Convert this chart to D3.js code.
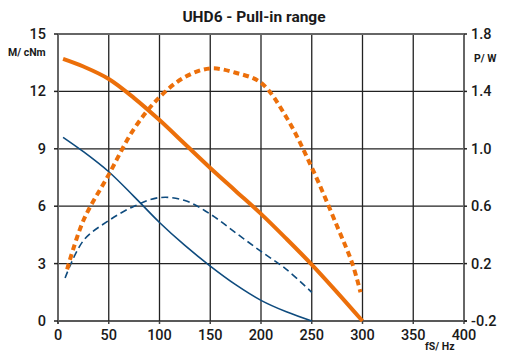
<!DOCTYPE html>
<html><head><meta charset="utf-8">
<script src="https://cdn.jsdelivr.net/npm/d3@7/dist/d3.min.js"></script>
<style>body{margin:0;background:#fff}svg{display:block}text{font-family:Roboto,"DejaVu Sans",sans-serif;fill:#1a1a1a}</style>
</head><body><svg id="c" width="505" height="353"></svg>
<script>
const title = "UHD6 - Pull-in range";
const xTicks = [0,50,100,150,200,250,300,350,400];
const yTicksLeft = [0,3,6,9,12,15];
const yTicksRight = [-0.2,0.2,0.6,1.0,1.4,1.8];
// Orange: torque M (cNm) solid, power P (W) dashed
const orangeTorqueX = [5,25,50,75,100,125,150,175,200,225,250,275,300];
const orangeTorqueY = [13.7,13.3,12.65,11.65,10.5,9.25,8.0,6.8,5.6,4.3,2.95,1.5,0];
const orangePowerX = [9,25,50,75,100,125,150,175,200,225,250,275,290,298];
const orangePowerY = [0.16,0.5,0.82,1.14,1.36,1.5,1.56,1.53,1.46,1.22,0.87,0.46,0.2,0.0];
// Blue: torque solid, power dashed
const blueTorqueX = [5,25,50,75,100,125,150,175,200,225,250];
const blueTorqueY = [9.6,8.85,7.8,6.5,5.15,3.95,2.87,1.9,1.08,0.48,0];
const bluePowerX = [7,25,50,75,100,125,150,175,200,225,250];
const bluePowerY = [0.10,0.36,0.50,0.60,0.66,0.64,0.545,0.415,0.285,0.16,0.0];

const svg = d3.select("#c");
const L=58,R=464,T=34,B=321;
const x = d3.scaleLinear().domain([0,400]).range([L,R]);
const yL = d3.scaleLinear().domain([0,15]).range([B,T]);
const yR = d3.scaleLinear().domain([-0.2,1.8]).range([B,T]);

// grid
svg.append("g").selectAll("line").data(xTicks.slice(1,-1)).join("line")
 .attr("x1",d=>x(d)).attr("x2",d=>x(d)).attr("y1",T).attr("y2",B)
 .attr("stroke","#222").attr("stroke-width",1.3);
svg.append("g").selectAll("line").data(yTicksLeft.slice(1,-1)).join("line")
 .attr("y1",d=>yL(d)).attr("y2",d=>yL(d)).attr("x1",L).attr("x2",R)
 .attr("stroke","#222").attr("stroke-width",1.3);
// frame
const fr = svg.append("g").attr("stroke","#666").attr("stroke-width",2);
fr.append("line").attr("x1",L).attr("x2",R).attr("y1",T).attr("y2",T);
fr.append("line").attr("x1",L).attr("x2",R+3).attr("y1",B).attr("y2",B).attr("stroke","#222").attr("stroke-width",1.5);
fr.append("line").attr("x1",L).attr("x2",L).attr("y1",T).attr("y2",B+3);
fr.append("line").attr("x1",R).attr("x2",R).attr("y1",T).attr("y2",B);
// ticks
svg.append("g").selectAll("line").data(xTicks).join("line")
 .attr("x1",d=>x(d)).attr("x2",d=>x(d)).attr("y1",B).attr("y2",B+3).attr("stroke","#444").attr("stroke-width",1.5);
svg.append("g").selectAll("line").data(yTicksLeft).join("line")
 .attr("x1",L-4).attr("x2",L).attr("y1",d=>yL(d)).attr("y2",d=>yL(d)).attr("stroke","#222").attr("stroke-width",1.5);
svg.append("g").selectAll("line").data(yTicksRight).join("line")
 .attr("x1",R).attr("x2",R+3).attr("y1",d=>yR(d)).attr("y2",d=>yR(d)).attr("stroke","#222").attr("stroke-width",1.5);

// labels
svg.append("g").selectAll("text").data(xTicks).join("text")
 .attr("x",d=>x(d)).attr("y",B+19).attr("text-anchor","middle").attr("font-size",14.5).attr("font-weight",500).text(d=>d);
svg.append("g").selectAll("text").data(yTicksLeft).join("text")
 .attr("x",L-12).attr("y",d=>yL(d)+5).attr("text-anchor","end").attr("font-size",14.5).attr("font-weight",500).text(d=>d);
svg.append("g").selectAll("text").data(yTicksRight).join("text")
 .attr("x",R+7).attr("y",d=>yR(d)+5).attr("text-anchor","start").attr("font-size",14.5).attr("font-weight",500).text(d=>d.toFixed(1));
svg.append("text").attr("x",254).attr("y",22).attr("text-anchor","middle").attr("font-size",15.5).attr("font-weight","bold").text(title);
svg.append("text").attr("x",8).attr("y",56).attr("font-size",10.5).attr("font-weight","bold").text("M/ cNm");
svg.append("text").attr("x",474).attr("y",62).attr("font-size",10.5).attr("font-weight","bold").text("P/ W");
svg.append("text").attr("x",425).attr("y",350).attr("font-size",10.5).attr("font-weight","bold").text("fS/ Hz");

const ORANGE="#ec6f0a", BLUE="#0e4b7e";
const lineL = d3.line().x(d=>x(d[0])).y(d=>yL(d[1])).curve(d3.curveCatmullRom);
const lineR = d3.line().x(d=>x(d[0])).y(d=>yR(d[1])).curve(d3.curveCatmullRom);
const zip=(a,b)=>a.map((v,i)=>[v,b[i]]);
svg.append("path").attr("d",lineR(zip(bluePowerX,bluePowerY))).attr("fill","none").attr("stroke",BLUE).attr("stroke-width",1.6).attr("stroke-dasharray","7,4");
svg.append("path").attr("d",lineL(zip(blueTorqueX,blueTorqueY))).attr("fill","none").attr("stroke",BLUE).attr("stroke-width",1.6);
svg.append("path").attr("d",lineR(zip(orangePowerX,orangePowerY))).attr("fill","none").attr("stroke",ORANGE).attr("stroke-width",4).attr("stroke-dasharray","6,4");
svg.append("path").attr("d",lineL(zip(orangeTorqueX,orangeTorqueY))).attr("fill","none").attr("stroke",ORANGE).attr("stroke-width",4);
</script></body></html>
